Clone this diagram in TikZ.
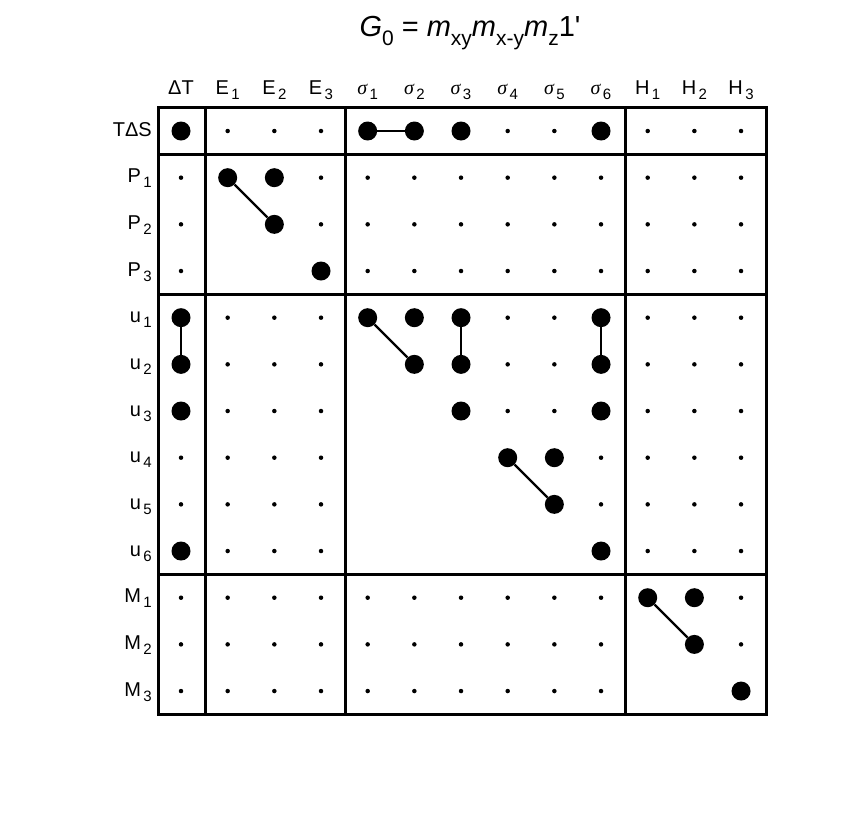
\documentclass[tikz,border=0pt]{standalone}
\usepackage{fontspec}
\setmainfont{Liberation Sans}
\newfontfamily\plainsans{Liberation Sans}[Ligatures=NoCommon]
\newfontfamily\serifit{Liberation Serif}[ItalicFont=* Italic]
\newcommand{\lowsub}[1]{\raisebox{-0.5ex}{\kern0.12em\fontsize{15}{18}\selectfont #1}}
\newcommand{\tsub}[1]{\raisebox{-0.55ex}{\fontsize{21}{24}\selectfont #1}}
\begin{document}
\begin{tikzpicture}[x=1pt,y=-1pt,
  big/.style={circle,fill=black,inner sep=0pt,minimum size=19pt},
  sm/.style={circle,fill=black,inner sep=0pt,minimum size=4.5pt},
  lab/.style={font=\fontsize{20}{24}\selectfont,inner sep=0pt},
  conn/.style={line width=2.3pt},
  frame/.style={line width=3pt}]
\useasboundingbox (0,0) rectangle (856,812);
\def\dx{46.67}
\node[font=\fontsize{29}{34}\selectfont] (title) at (470,33) {\textit{G}\tsub{0} = \textit{m}\tsub{xy}\textit{m}\tsub{x-y}\textit{m}\tsub{z}1\textquotesingle};
% column labels
\foreach \t [count=\c from 0] in {ΔT,E\lowsub{1},E\lowsub{2},E\lowsub{3},{\serifit\itshape σ}\lowsub{1},{\serifit\itshape σ}\lowsub{2},{\serifit\itshape σ}\lowsub{3},{\serifit\itshape σ}\lowsub{4},{\serifit\itshape σ}\lowsub{5},{\serifit\itshape σ}\lowsub{6},H\lowsub{1},H\lowsub{2},H\lowsub{3}}
  \node[lab,anchor=base] (col\c) at ({181+\dx*\c},94) {\t};
% row labels
\foreach \t [count=\r from 0] in {TΔS,P\lowsub{1},P\lowsub{2},P\lowsub{3},u\lowsub{1},u\lowsub{2},u\lowsub{3},u\lowsub{4},u\lowsub{5},u\lowsub{6},M\lowsub{1},M\lowsub{2},M\lowsub{3}}
  \node[lab,anchor=base east] (row\r) at (152,{131+\dx*\r+5}) {\t};
% grid
\foreach \rowv [count=\r from 0] in {
 {2,1,1,1,2,2,2,1,1,2,1,1,1},
 {1,2,2,1,1,1,1,1,1,1,1,1,1},
 {1,0,2,1,1,1,1,1,1,1,1,1,1},
 {1,0,0,2,1,1,1,1,1,1,1,1,1},
 {2,1,1,1,2,2,2,1,1,2,1,1,1},
 {2,1,1,1,0,2,2,1,1,2,1,1,1},
 {2,1,1,1,0,0,2,1,1,2,1,1,1},
 {1,1,1,1,0,0,0,2,2,1,1,1,1},
 {1,1,1,1,0,0,0,0,2,1,1,1,1},
 {2,1,1,1,0,0,0,0,0,2,1,1,1},
 {1,1,1,1,1,1,1,1,1,1,2,2,1},
 {1,1,1,1,1,1,1,1,1,1,0,2,1},
 {1,1,1,1,1,1,1,1,1,1,0,0,2}}
 \foreach \v [count=\c from 0] in \rowv {
   \ifcase\v\relax
   \or \node[sm] (n-\r-\c) at ({181+\dx*\c},{131+\dx*\r}) {};
   \or \node[big] (n-\r-\c) at ({181+\dx*\c},{131+\dx*\r}) {};
   \fi
 };
% connectors
\draw[conn] (n-0-4) -- (n-0-5);
\draw[conn] (n-1-1) -- (n-2-2);
\draw[conn] (n-4-0) -- (n-5-0);
\draw[conn] (n-4-4) -- (n-5-5);
\draw[conn] (n-4-6) -- (n-5-6);
\draw[conn] (n-4-9) -- (n-5-9);
\draw[conn] (n-7-7) -- (n-8-8);
\draw[conn] (n-10-10) -- (n-11-11);
% frame
\draw[frame] (158,107) rectangle (766,714);
\foreach \x in {205,345,625} \draw[frame] (\x,107) -- (\x,714);
\foreach \y in {154,294,574} \draw[frame] (158,\y) -- (766,\y);
\end{tikzpicture}
\end{document}
